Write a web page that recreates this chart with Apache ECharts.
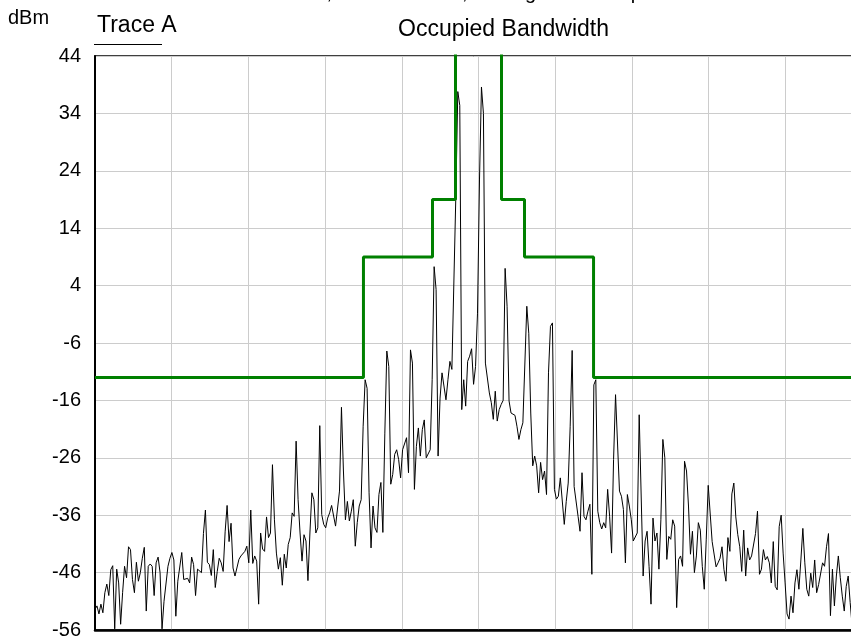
<!DOCTYPE html>
<html>
<head>
<meta charset="utf-8">
<title>Occupied Bandwidth</title>
<script src="https://cdn.jsdelivr.net/npm/echarts@6/dist/echarts.min.js"></script>
<style>
  html, body { margin: 0; padding: 0; background: #fff; }
  #chart { width: 851px; height: 638px; }
</style>
</head>
<body>
<div id="chart"></div>
<script>
// y axis runs from the floor up in 10 dB steps
const Y_FLOOR = -56
const Y_TOP = 44
const Y_STEP = 10

// trace A, dBm, evenly spaced over the span
const traceA = [
  -52.4, -51.8, -53.2, -51.5, -53, -49.5, -48, -50, -45.5, -44.8,
  -55.8, -45.4, -47.8, -55, -49.5, -44.9, -46.9, -41.5, -42, -47.2,
  -49.5, -44.2, -47.5, -46, -43.5, -41.6, -52.7, -44.9, -44.5, -44.9,
  -50, -44.3, -43.3, -46, -55.8, -51, -50.8, -44.9, -43.5, -42.5,
  -43.8, -53.6, -47.5, -47.8, -42.5, -47.2, -47, -47, -47.8, -43.3,
  -44.6, -50, -45.4, -45.2, -46, -39.2, -35.1, -44.2, -44.6, -46.5,
  -42, -48.6, -45.8, -43.5, -44.3, -45.8, -38.9, -34.3, -40.6, -37.4,
  -45.2,
  -46.6, -46.9, -43.7, -43.1, -43.2, -42.3, -41.4, -44.3, -35.1, -44.4,
  -43.1, -44, -51.5, -39.1, -41.9, -42.3, -36.3, -39.9, -39.1, -27.2,
  -36.8, -42.6, -45.4, -43.4, -48.2, -42.8, -45.2, -41.1, -39.9, -35.6,
  -36.2, -23.1, -33.3, -39.1, -44, -39.4, -40.5, -47.4, -39.1, -32.1,
  -33.3, -39.1, -38.2, -20.4, -35.9, -37.6, -38.2, -36.5, -35.6, -34.3,
  -34.4, -37.9, -38.1, -31.8, -17.2, -28.3, -36.8, -33.6, -37, -35.3,
  -33.3, -41.4, -37.3, -34.4, -33.3, -20.5, -12.4, -13.9, -32.1,
  -41.7, -34.4, -38.2, -39, -32.4, -30.3, -39, -21.7, -7.4, -10.1,
  -30.6, -28.9, -25.4, -24.6, -26.3, -29.5, -24.6, -24.9, -22.5, -28.6,
  -7.2, -9.5, -31.5, -24, -20.8, -25.7, -21.1, -19.4, -26, -25.7,
  -24.6, -12.4, 7.3, 3.3, -25.7, -15.6, -11.2, -10.9, -15.9, -12.4,
  -9.2, -10.6, -10.6, 19.5, 37.8, 35.4,
  -17.6, -12.4, -17, -9.2, -8.3, -7, -13.2, -10.1, -0.8, 22.4,
  38.6, 34, -9.5, -9.8, -14.7, -16.4, -19.3, -14.4, -19.6, -17.6,
  -16.7, -16, 7, 0.4, -16.1, -18.2, -18.2, -18.6, -20.5, -22.8,
  -21.1, -19.9, -19.6, 0.4, -4.3, -18.2, -27.4, -25.7, -27.4, -32.1,
  -26.8, -29.8, -28.3, -32.4, -11.2, -3.1, -2.5, -31.5, -33.2, -32.7,
  -29.5, -29.7, -37.6, -33.6, -30.4, -20.5, -7.3, -31, -31.1, -36.2,
  -38.8, -28.6, -36.2, -36.8, -35.3, -34.1, -46.3, -13.3, -12.4, -35.3,
  -37.3, -38.4, -37.3, -38.2, -31.5, -36.2, -42.6, -26.3, -15, -14.7,
  -31.8, -32.7, -35, -44.3, -32.4, -34.4, -36.8, -40.5, -40.7, -39.1,
  -18.5, -18.3, -46.6, -40.5, -38.8, -44.9, -51.5, -36.5, -40.5, -39.1,
  -45.4, -36.8, -22.8, -26, -43.7, -39.7, -40.2, -36.8, -37.9, -52.1,
  -43.7, -43.1, -44.9, -26.6, -28.3, -34.4, -42.8, -38.8, -46, -43.1,
  -37.3,
  -38.6, -44.9, -48.9, -40.3, -30.8, -30.5, -40.6, -40.8, -45, -44.3,
  -43.5, -41.5, -45.5, -47.5, -39.9, -42.3, -32.3, -30.4, -36.3, -39.4,
  -41.5, -45.8, -38.6, -46.6, -41.7, -43.8, -43.1, -43.3, -39.2, -35.3,
  -46.3, -45.4, -42, -43.8, -43.2, -44.3, -47.8, -40.6, -48.4, -49,
  -38, -36, -42.6, -47.8, -53.2, -54.1, -50.1, -53, -47.8, -45.5,
  -48.9, -43.8, -38.3, -44.3, -48.9, -50.1, -46.1, -48.6, -43.8, -49.5,
  -48.1, -47.8, -44.3, -44.9, -41.5, -39.2, -53.5, -45.4, -51.8, -46.6,
  -43.1, -46.9, -50.1, -52.7, -48.4, -46.6, -51.2, -55.3,
  -50.4, -47.2, -52.6, -49.1, -53.4
]

// occupied bandwidth mask: level holds from each edge to the next (span in % of width)
const maskEdges = [0, 35, 44, 47, 53, 56, 65, 100]
const maskLevels = [-12, 9, 19, 60, 19, 9, -12, -12]

const titleLine = 'RBW 30 kHz, VBW 300 kHz, Average 10 Sweeps'
const FONT = "'Liberation Sans', Arial, sans-serif"

const chart = echarts.init(document.getElementById('chart'))

const freqStep = 100 / (traceA.length - 1)
const traceData = traceA.map((v, i) => [i * freqStep, v - Y_FLOOR])
const maskData = maskEdges.map((f, i) => [f, maskLevels[i] - Y_FLOOR])

const option = {
  animation: false,
  backgroundColor: '#fff',
  title: {
    text: 'Occupied Bandwidth',
    left: 393,
    top: 13,
    textStyle: { fontFamily: FONT, fontSize: 23, fontWeight: 'normal', color: '#000' }
  },
  graphic: [
    {
      type: 'text',
      left: 212,
      top: -17,
      style: { text: titleLine, font: '20px ' + FONT, fill: '#000' }
    },
    {
      type: 'text',
      left: 8,
      top: 8,
      style: { text: 'dBm', font: '20px ' + FONT, fill: '#000' }
    },
    {
      type: 'text',
      left: 97,
      top: 14,
      style: { text: 'Trace A', font: '23px ' + FONT, fill: '#000' }
    },
    {
      type: 'line',
      shape: { x1: 94, y1: 44.5, x2: 162, y2: 44.5 },
      style: { stroke: '#000', lineWidth: 1 }
    }
  ],
  grid: {
    left: 95,
    width: 767,
    top: 56,
    bottom: 8,
    outerBoundsMode: 'none',
    show: true,
    borderColor: '#000',
    borderWidth: 1.5
  },
  xAxis: {
    type: 'value',
    min: 0,
    max: 100,
    interval: 10,
    axisLine: { show: true, onZero: false, lineStyle: { color: '#000', width: 2.5 } },
    axisTick: { show: false },
    axisLabel: { show: false },
    splitLine: { show: true, lineStyle: { color: '#cccccc', width: 1 } }
  },
  yAxis: {
    type: 'value',
    min: 0,
    max: Y_TOP - Y_FLOOR,
    interval: Y_STEP,
    axisLine: { show: true, lineStyle: { color: '#000', width: 2 } },
    axisTick: { show: false },
    axisLabel: {
      margin: 14,
      fontFamily: FONT,
      fontSize: 20,
      color: '#000',
      formatter: (v) => String(v + Y_FLOOR)
    },
    splitLine: { show: true, lineStyle: { color: '#cccccc', width: 1 } }
  },
  series: [
    {
      name: 'Trace A',
      type: 'line',
      data: traceData,
      showSymbol: false,
      lineStyle: { color: '#000', width: 1 },
      z: 3
    },
    {
      name: 'Mask',
      type: 'line',
      step: 'end',
      data: maskData,
      showSymbol: false,
      lineStyle: { color: '#008000', width: 3 },
      z: 4
    }
  ]
}

chart.setOption(option)

window.addEventListener('resize', () => {
  chart.resize()
})
</script>
</body>
</html>
